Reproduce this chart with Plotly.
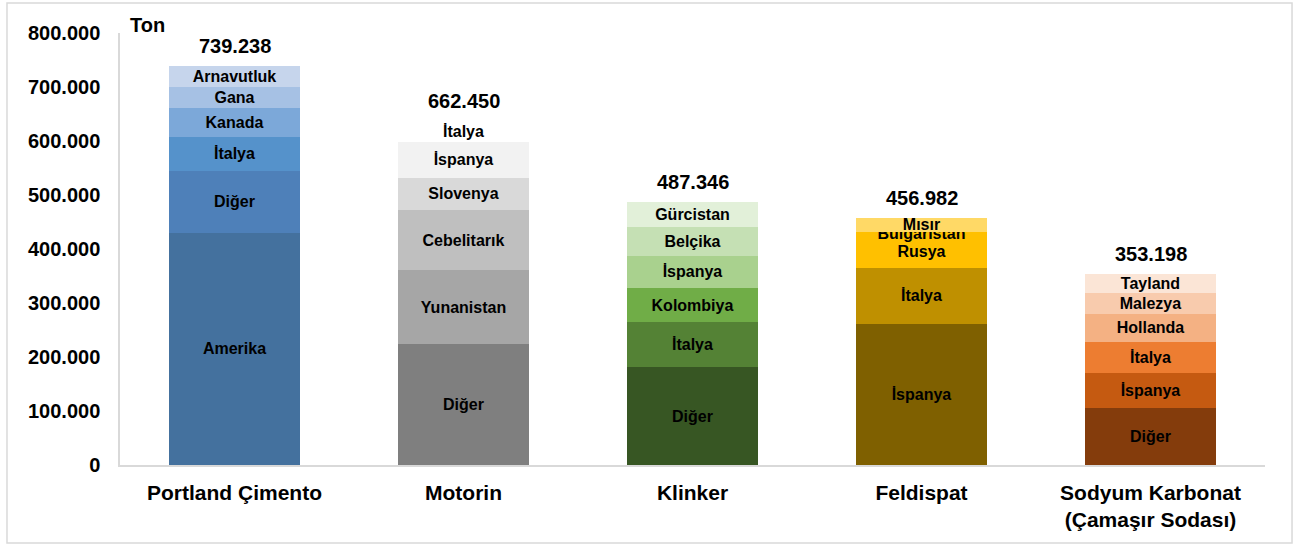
import plotly.graph_objects as go

categories = ["Portland Çimento", "Motorin", "Klinker", "Feldispat",
              "Sodyum Karbonat<br>(Çamaşır Sodası)"]
totals = [739238, 662450, 487346, 456982, 353198]

# segments bottom -> top
portland_countries = ["Amerika", "Diğer", "İtalya", "Kanada", "Gana", "Arnavutluk"]
portland_values = [430000, 115000, 63000, 54000, 38000, 39238]
portland_colors = ["#44719E", "#4E80B9", "#5592CB", "#7CA8D9", "#A6C1E4", "#C6D5EC"]

motorin_countries = ["Diğer", "Yunanistan", "Cebelitarık", "Slovenya", "İspanya", "İtalya"]
motorin_values = [224000, 137000, 111000, 60000, 66000, 39000]
motorin_colors = ["#7F7F7F", "#A6A6A6", "#BFBFBF", "#D9D9D9", "#F2F2F2", "rgba(255,255,255,0)"]

klinker_countries = ["Diğer", "İtalya", "Kolombiya", "İspanya", "Belçika", "Gürcistan"]
klinker_values = [181000, 83000, 64000, 59000, 54000, 46346]
klinker_colors = ["#375623", "#548235", "#70AD47", "#A9D18E", "#C5E0B4", "#E2F0D9"]

feldispat_countries = ["İspanya", "İtalya", "Rusya", "Bulgaristan", "Mısır"]
feldispat_values = [262000, 103000, 60000, 7000, 24982]
feldispat_colors = ["#7F6000", "#BF9000", "#FFC000", "#FFC000", "#FFD966"]

soda_countries = ["Diğer", "İspanya", "İtalya", "Hollanda", "Malezya", "Tayland"]
soda_values = [105000, 66000, 57000, 52000, 38000, 35198]
soda_colors = ["#843C0C", "#C55A11", "#ED7D31", "#F4B183", "#F8CBAD", "#FBE5D6"]

y_ticks = [0, 100000, 200000, 300000, 400000, 500000, 600000, 700000, 800000]

groups = [
    (portland_countries, portland_values, portland_colors),
    (motorin_countries, motorin_values, motorin_colors),
    (klinker_countries, klinker_values, klinker_colors),
    (feldispat_countries, feldispat_values, feldispat_colors),
    (soda_countries, soda_values, soda_colors),
]

FONT = "Liberation Sans, Arial, sans-serif"
fig = go.Figure()
n_levels = max(len(g[0]) for g in groups)
for lvl in range(n_levels):
    ys, texts, cols = [], [], []
    for names, vals, colors in groups:
        if lvl < len(vals):
            ys.append(vals[lvl]); texts.append(names[lvl]); cols.append(colors[lvl])
        else:
            ys.append(None); texts.append(""); cols.append("rgba(0,0,0,0)")
    fig.add_trace(go.Bar(
        x=categories, y=ys, text=texts, marker=dict(color=cols, line=dict(width=0)),
        textposition="inside", insidetextanchor="middle", textangle=0,
        textfont=dict(family=FONT, size=16, color="#000000", weight="bold"),
        hoverinfo="skip", showlegend=False,
    ))

# total labels sit on top of each stack
for cat, tot, (names, vals, colors) in zip(categories, totals, groups):
    fig.add_annotation(x=cat, y=sum(vals), text=f"{tot:,}".replace(",", "."),
                       showarrow=False, yshift=20, yanchor="middle",
                       font=dict(family=FONT, size=20, color="#000000", weight="bold"))

fig.add_annotation(xref="paper", yref="paper", x=0.007, y=1.0, xanchor="left", yanchor="middle",
                   yshift=8, text="Ton", showarrow=False,
                   font=dict(family=FONT, size=20, color="#000000", weight="bold"))

fig.add_shape(type="rect", xref="paper", yref="paper", x0=-0.0987, x1=1.0236, y0=-0.1806, y1=1.0694,
              line=dict(color="#D9D9D9", width=1.5), fillcolor="rgba(0,0,0,0)", layer="below")

fig.update_layout(
    barmode="stack", bargap=0.43, width=1295, height=547,
    margin=dict(l=120, r=30, t=33, b=82),
    plot_bgcolor="white", paper_bgcolor="white",
    separators=",.",
    uniformtext=dict(minsize=16, mode="show"),
    font=dict(family=FONT, color="#000000"),
)
fig.update_yaxes(range=[0, 800000], tickvals=y_ticks, tickformat=",d", showgrid=False,
                 showline=True, linecolor="#D9D9D9", linewidth=1.5, ticks="",
                 ticklabelstandoff=14, zeroline=False,
                 tickfont=dict(family=FONT, size=20, color="#000000", weight="bold"))
fig.update_xaxes(showline=True, linecolor="#D9D9D9", linewidth=1.5, ticks="",
                 ticklabelstandoff=8,
                 tickfont=dict(family=FONT, size=21, color="#000000", weight="bold"))

fig.write_html("out.html", config={"displayModeBar": False},
               post_script="document.body.style.margin='0';")
